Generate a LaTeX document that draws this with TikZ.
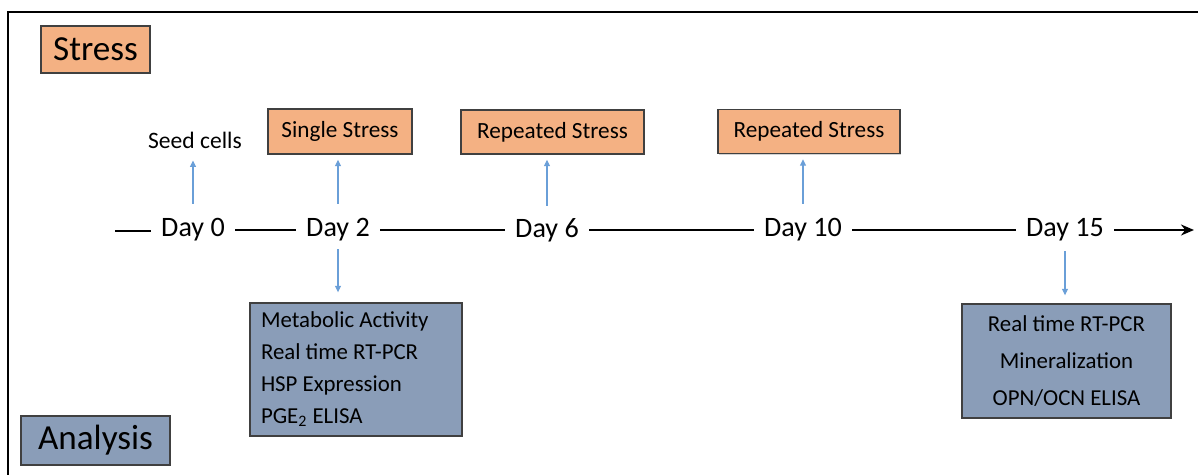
\documentclass[tikz,border=0pt]{standalone}
\usepackage{fontspec}
\setmainfont{Carlito}
\usepackage{tikz}
\usetikzlibrary{arrows.meta,positioning,calc,shadows}
\definecolor{stsalmon}{HTML}{F4B183}
\definecolor{ansteel}{HTML}{8A9DB8}
\definecolor{arblue}{HTML}{6A9FD8}

\begin{document}
\begin{tikzpicture}[
  x=0.02cm, y=-0.02cm,
  >={Stealth[length=2.6mm,width=2.2mm]},
  stressbox/.style={draw=black!75, fill=stsalmon, line width=0.8pt,
                    inner sep=0pt, font=\fontsize{13.2}{15}\selectfont,
                    drop shadow={opacity=0.35,shadow xshift=0.8pt,shadow yshift=-0.8pt}},
  anbox/.style={draw=black!75, fill=ansteel, line width=0.8pt, inner sep=0pt,
                drop shadow={opacity=0.35,shadow xshift=0.8pt,shadow yshift=-0.8pt}},
  day/.style={font=\fontsize{16}{18}\selectfont, minimum height=0.76cm,
              inner xsep=0.2cm},
  tl/.style={line width=1.7pt, black},
  up/.style={draw=arblue, line width=0.6pt,
             -{Triangle[length=1.3mm,width=1.2mm]}},
]
\useasboundingbox (0,0) rectangle (1198,474);

% ===== frame =====
\draw[line width=1.1pt] (8,480) -- (8,12) -- (1200,12);

% ===== legend boxes =====
\node[stressbox, minimum width=2.18cm, minimum height=0.94cm,
      font=\fontsize{20}{22}\selectfont] (lstress) at (95.5,49.5) {Stress};
\node[anbox, minimum width=2.98cm, minimum height=0.98cm,
      font=\fontsize{20}{22}\selectfont] (lanal) at (95.5,440.5) {Analysis\hspace{0.25cm}};

% ===== timeline =====
\coordinate (tstart) at (115,231);
\node[day] (d0)  at (193,230)  {Day 0};
\node[day] (d2)  at (338,230)  {Day 2};
\node[day] (d6)  at (547,230)  {Day 6};
\node[day] (d10) at (803,230)  {Day 10};
\node[day] (d15) at (1065,230) {Day 15};
\coordinate (tend) at (1194,231);
\draw[tl] (tstart) -- (tstart -| d0.west);
\draw[tl] (d0.east) -- (d0.east -| d2.west);
\draw[tl] (d2.east) -- (d2.east -| d6.west);
\draw[tl] (d6.east) -- (d6.east -| d10.west);
\draw[tl] (d10.east) -- (d10.east -| d15.west);
\draw[tl,->] (d15.east) -- (d15.east -| tend);

% ===== stress events =====
\node[font=\fontsize{13.4}{15}\selectfont] (seed) at (195,140) {Seed cells};
\node[stressbox, minimum width=2.88cm, minimum height=0.9cm] (ss)  at (340,131.5) {Single Stress\hspace{0.2cm}};
\node[stressbox, minimum width=3.66cm, minimum height=0.88cm] (rs1) at (552.5,132) {Repeated Stress\hspace{0.2cm}};
\node[stressbox, minimum width=3.64cm, minimum height=0.88cm] (rs2) at (809,131.5) {Repeated Stress\hspace{0.2cm}};
\draw[up] (d0.north)  ++(0,-7) -- ($(d0.north |- seed.south)+(0,6)$);
\draw[up] (d2.north)  ++(0,-7) -- ($(d2.north |- ss.south)+(0,5)$);
\draw[up] (d6.north)  ++(0,-5) -- ($(d6.north |- rs1.south)+(0,5)$);
\draw[up] (d10.north) ++(0,-7) -- ($(d10.north |- rs2.south)+(0,5)$);

% ===== analyses =====
\node[anbox, minimum width=4.24cm, minimum height=2.66cm,
      font=\fontsize{13}{18.2}\selectfont, align=flush left, text width=3.8cm]
  (a2) at (356,369.5)
  {Metabolic Activity\\Real time RT-PCR\\HSP Expression\\PGE\textsubscript{2} ELISA};
\node[anbox, minimum width=4.18cm, minimum height=2.28cm,
      font=\fontsize{13}{21}\selectfont, align=center]
  (a15) at (1066.5,361)
  {Real time RT-PCR\\Mineralization\\OPN/OCN ELISA};
\draw[up] (d2.south)  ++(0,0) -- ($(d2.south |- a2.north)+(0,-10)$);
\draw[up] (d15.south) ++(0,2) -- ($(d15.south |- a15.north)+(0,-8)$);

\end{tikzpicture}
\end{document}
